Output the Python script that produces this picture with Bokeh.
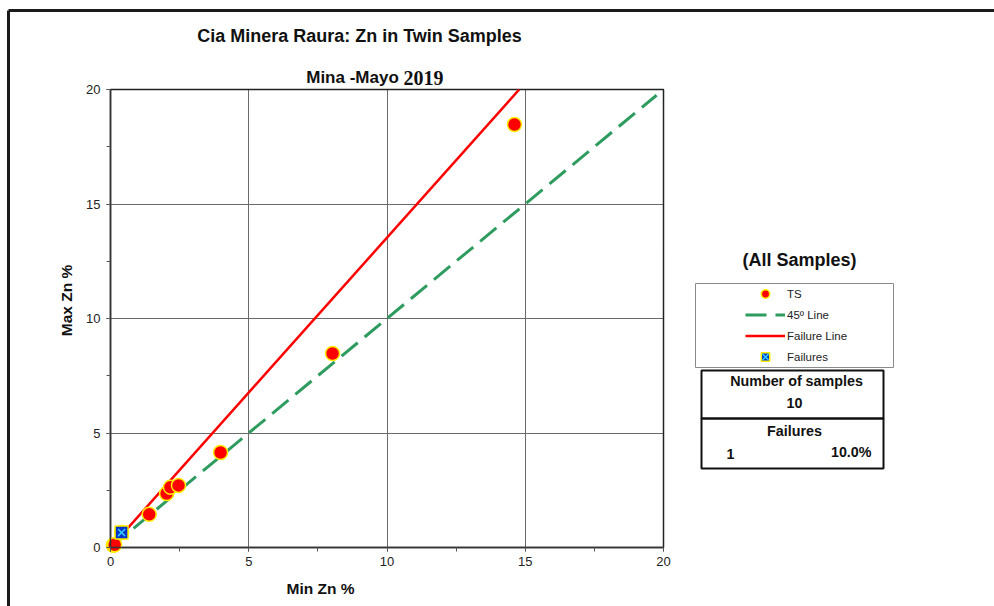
import math
from bokeh.plotting import figure
from bokeh.models import (Range1d, SingleIntervalTicker, Label, BoxAnnotation,
                          Legend, LegendItem, LinearAxis, Grid)
from bokeh.embed import file_html
from bokeh.resources import INLINE

# ---------------- data ----------------
ts_min = [0.10, 0.15, 0.40, 1.40, 2.03, 2.17, 2.46, 3.98, 8.03, 14.61]
ts_max = [0.10, 0.12, 0.65, 1.45, 2.36, 2.63, 2.71, 4.15, 8.47, 18.47]
fail_min = [0.40]
fail_max = [0.65]
line45_x = [0.0, 19.75]
line45_y = [0.0, 19.75]
failline_x = [0.40, 14.78]
failline_y = [0.54, 20.0]
axis_bounds = (0, 20)
grid_ticks = [5, 10, 15]
n_samples = 10
n_failures = 1
pct_failures = 10.0

title_text = "Cia Minera Raura: Zn in Twin Samples"
subtitle_a = "Mina -Mayo "
subtitle_b = "2019"
xlabel = "Min Zn %"
ylabel = "Max Zn %"

# ---------------- layout (pixels) ----------------
W, H = 994, 606
FL, FR, FT, FB = 110, 663, 89, 547   # plot box edges on the page
SPAN = axis_bounds[1] - axis_bounds[0]


def X(px):
    return (px - FL) / (FR - FL) * SPAN + axis_bounds[0]


def Y(py):
    return (FB - py) / (FB - FT) * SPAN + axis_bounds[0]


p = figure(width=W, height=H,
           x_range=Range1d(X(0), X(W)), y_range=Range1d(Y(H), Y(0)),
           x_axis_location=None, y_axis_location=None,
           output_backend="svg", toolbar_location=None,
           min_border=0)
p.title.visible = False
p.background_fill_color = "white"
p.border_fill_color = "white"
p.outline_line_color = None
for g in p.grid:
    g.visible = False

# grid inside the plot box only
grid_color = "#6a6a6a"
if "cross_bounds" in Grid.properties():
    for dim in (0, 1):
        p.add_layout(Grid(dimension=dim, ticker=SingleIntervalTicker(interval=5),
                          bounds=axis_bounds, cross_bounds=axis_bounds,
                          grid_line_color=grid_color, grid_line_width=1,
                          level="underlay"))
else:
    lo, hi = axis_bounds
    p.segment(x0=grid_ticks, x1=grid_ticks, y0=[lo] * len(grid_ticks),
              y1=[hi] * len(grid_ticks), line_color=grid_color, line_width=1,
              level="underlay")
    p.segment(y0=grid_ticks, y1=grid_ticks, x0=[lo] * len(grid_ticks),
              x1=[hi] * len(grid_ticks), line_color=grid_color, line_width=1,
              level="underlay")

# plot box outline
p.add_layout(BoxAnnotation(left=axis_bounds[0], right=axis_bounds[1],
                           bottom=axis_bounds[0], top=axis_bounds[1],
                           fill_color=None, line_color="#222222",
                           line_alpha=1, line_width=1.5, level="underlay"))

# axes pinned at the plot box edges
xaxis = LinearAxis(fixed_location=axis_bounds[0], bounds=axis_bounds)
yaxis = LinearAxis(fixed_location=axis_bounds[0], bounds=axis_bounds)
for ax in (xaxis, yaxis):
    ax.ticker = SingleIntervalTicker(interval=5, num_minor_ticks=2)
    ax.major_tick_in = 0
    ax.major_tick_out = 4
    ax.minor_tick_in = 0
    ax.minor_tick_out = 4
    ax.axis_line_color = "#333333"
    ax.axis_line_width = 1.5
    ax.major_tick_line_color = "#555555"
    ax.minor_tick_line_color = "#555555"
    ax.major_label_text_font = "Liberation Sans"
    ax.major_label_text_font_size = "13px"
    ax.major_label_text_color = "#222222"
xaxis.major_label_standoff = 5
yaxis.major_label_standoff = 6
p.add_layout(xaxis, "below")
p.add_layout(yaxis, "left")

# axis titles
p.add_layout(Label(x=X(320), y=Y(588), text=xlabel, text_align="center",
                   text_baseline="middle", text_font="Liberation Sans",
                   text_font_size="15.5px", text_font_style="bold",
                   text_color="#111111"))
p.add_layout(Label(x=X(66), y=Y(300), text=ylabel, text_align="center",
                   text_baseline="middle", angle=math.pi / 2,
                   text_font="Liberation Sans", text_font_size="15.5px",
                   text_font_style="bold", text_color="#111111"))

# ---------------- glyphs ----------------
r45 = p.line(line45_x, line45_y, line_color="#2e9b5f", line_width=3,
             line_dash="21 9")
rfl = p.line(failline_x, failline_y, line_color="#ff0000", line_width=2.5)
rts = p.scatter(ts_min, ts_max, marker="circle", size=14,
                fill_color="#ff0000", line_color="#ffee00", line_width=1.5)
rf1 = p.scatter(fail_min, fail_max, marker="square", size=13,
                fill_color="#0033cc", line_color="#ffee00", line_width=1.5)
rf2 = p.scatter(fail_min, fail_max, marker="x", size=10,
                line_color="#33ccff", line_width=1.5)

# ---------------- titles ----------------
p.add_layout(Label(x=X(359), y=Y(35), text=title_text, text_align="center",
                   text_baseline="middle", text_font="Liberation Sans",
                   text_font_size="18px", text_font_style="bold",
                   text_color="#111111"))
p.add_layout(Label(x=X(403), y=Y(77), text=subtitle_a, text_align="right",
                   text_baseline="middle", text_font="Liberation Sans",
                   text_font_size="17px", text_font_style="bold",
                   text_color="#111111"))
p.add_layout(Label(x=X(403), y=Y(77), text=subtitle_b, text_align="left",
                   text_baseline="middle", text_font="Liberation Serif",
                   text_font_size="20px", text_font_style="bold",
                   text_color="#111111"))

# ---------------- outer frame (top and left edges) ----------------
frame_style = dict(fill_color=None, line_color="#1a1a1a", line_alpha=1,
                   line_width=3)
p.add_layout(BoxAnnotation(left=X(8), right=X(W), top=Y(10), bottom=Y(10),
                           **frame_style))
p.add_layout(BoxAnnotation(left=X(8), right=X(8), top=Y(10), bottom=Y(H),
                           **frame_style))

# ---------------- legend panel ----------------
p.add_layout(Label(x=X(799), y=Y(259), text="(All Samples)",
                   text_align="center", text_baseline="middle",
                   text_font="Liberation Sans", text_font_size="18px",
                   text_font_style="bold", text_color="#111111"))
p.add_layout(BoxAnnotation(left=X(695), right=X(893), top=Y(283),
                           bottom=Y(367), fill_color=None,
                           line_color="#8a8a8a", line_alpha=1, line_width=1))

legend = Legend(items=[
    LegendItem(label="TS", renderers=[rts]),
    LegendItem(label="45º Line", renderers=[r45]),
    LegendItem(label="Failure Line", renderers=[rfl]),
    LegendItem(label="Failures", renderers=[rf1, rf2]),
], location=(745, H - 283 - 84), padding=0, spacing=0, margin=0,
    glyph_width=40, glyph_height=21, label_height=21, label_standoff=2,
    label_text_font="Liberation Sans", label_text_font_size="11.5px",
    label_text_color="#222222", border_line_color=None,
    background_fill_alpha=0)
p.add_layout(legend)

# stats boxes
box_style = dict(fill_color=None, line_color="#111111", line_alpha=1,
                 line_width=2)
p.add_layout(BoxAnnotation(left=X(701), right=X(883), top=Y(370),
                           bottom=Y(418), **box_style))
p.add_layout(BoxAnnotation(left=X(701), right=X(883), top=Y(418),
                           bottom=Y(468), **box_style))

stat_style = dict(text_font="Liberation Sans", text_font_size="14.3px",
                  text_font_style="bold", text_color="#111111",
                  text_baseline="middle")
p.add_layout(Label(x=X(796), y=Y(380), text="Number of samples",
                   text_align="center", **stat_style))
p.add_layout(Label(x=X(794), y=Y(402), text=str(n_samples),
                   text_align="center", **stat_style))
p.add_layout(Label(x=X(794), y=Y(430), text="Failures",
                   text_align="center", **stat_style))
p.add_layout(Label(x=X(726), y=Y(453), text=str(n_failures),
                   text_align="left", **stat_style))
p.add_layout(Label(x=X(871), y=Y(451), text=f"{pct_failures:.1f}%",
                   text_align="right", **stat_style))

open("out.html", "w").write(file_html(p, INLINE))
